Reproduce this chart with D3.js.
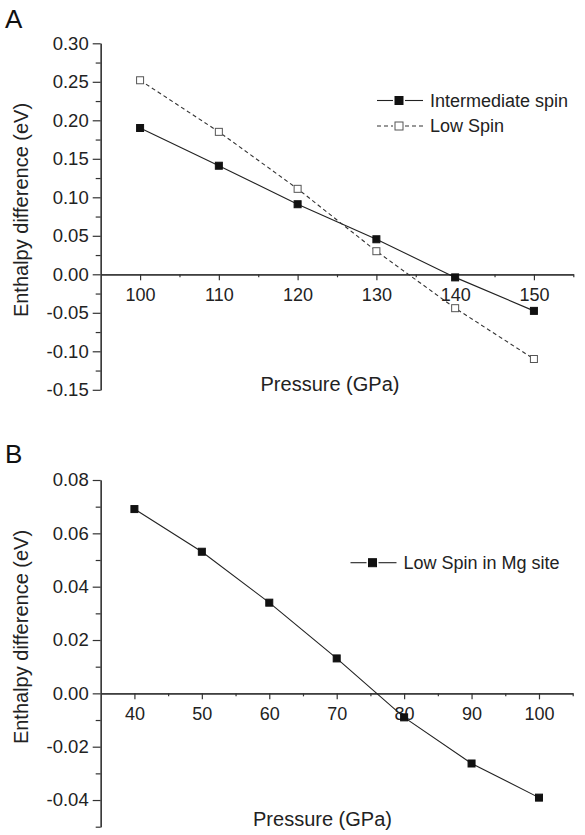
<!DOCTYPE html>
<html>
<head>
<meta charset="utf-8">
<script src="https://cdn.jsdelivr.net/npm/d3@7"></script>
<style>
  body { margin: 0; background: #fff; }
  svg { display: block; font-family: "Liberation Sans", Arial, sans-serif; }
</style>
</head>
<body>
<svg id="chart" width="585" height="835"></svg>
<script>
// panel A data: enthalpy difference vs pressure
const pressureA = [100, 110, 120, 130, 140, 150];
const intermediateSpin = [0.190, 0.141, 0.091, 0.0455, -0.004, -0.0475];
const lowSpin = [0.252, 0.185, 0.111, 0.030, -0.044, -0.110];

// panel B data
const pressureB = [40, 50, 60, 70, 80, 90, 100];
const lowSpinMg = [0.0691, 0.0531, 0.0340, 0.0131, -0.0090, -0.0263, -0.0391];

const yTicksA = [-0.15, -0.10, -0.05, 0.00, 0.05, 0.10, 0.15, 0.20, 0.25, 0.30];
const yTicksB = [-0.04, -0.02, 0.00, 0.02, 0.04, 0.06, 0.08];
const xTicksA = [100, 110, 120, 130, 140, 150];
const xTicksB = [40, 50, 60, 70, 80, 90, 100];

const svg = d3.select('#chart');
const ink = '#222';

function drawPanel(opt) {
  const g = svg.append('g');
  const x = d3.scaleLinear().domain(opt.xDomain).range(opt.xRange);
  const y = d3.scaleLinear().domain(opt.yDomain).range(opt.yRange);

  // y axis minor ticks
  const yMinor = d3.axisLeft(y).tickValues(opt.yMinor).tickSize(5).tickSizeOuter(0).tickFormat('');
  g.append('g').attr('transform', `translate(${opt.xRange[0]},0)`).call(yMinor);
  // y axis major ticks + labels
  const yMajor = d3.axisLeft(y).tickValues(opt.yTicks).tickSize(8).tickSizeOuter(0)
    .tickPadding(4).tickFormat(d => d3.format('.2f')(d).replace('−', '-'));
  const ya = g.append('g').attr('transform', `translate(${opt.xRange[0]},0)`).call(yMajor);
  ya.selectAll('text').attr('font-size', 18.5).attr('fill', ink);

  // x axis at y = 0
  const y0 = y(0);
  const xMinor = d3.axisBottom(x).tickValues(opt.xMinor).tickSize(3).tickSizeOuter(0).tickFormat('');
  g.append('g').attr('transform', `translate(0,${y0})`).call(xMinor);
  const xMajor = d3.axisBottom(x).tickValues(opt.xTicks).tickSize(6).tickSizeOuter(0).tickPadding(8);
  const xa = g.append('g').attr('transform', `translate(0,${y0})`).call(xMajor);
  xa.selectAll('text').attr('font-size', 18).attr('fill', ink);

  g.selectAll('.domain, .tick line').attr('stroke', '#333').attr('stroke-width', 1.2);

  // axis titles and panel letter
  g.append('text').attr('x', opt.xTitle[0]).attr('y', opt.xTitle[1])
    .attr('text-anchor', 'middle').attr('font-size', 20).attr('fill', ink).text('Pressure (GPa)');
  g.append('text').attr('transform', `translate(${opt.yTitle[0]},${opt.yTitle[1]}) rotate(-90)`)
    .attr('text-anchor', 'middle').attr('dominant-baseline', 'central')
    .attr('font-size', 20).attr('fill', ink).text('Enthalpy difference (eV)');
  g.append('text').attr('x', 5).attr('y', opt.letterY).attr('font-size', 26).attr('fill', '#111').text(opt.letter);

  const line = d3.line().x(d => x(d[0])).y(d => y(d[1]));

  opt.series.forEach(s => {
    const pts = s.xs.map((v, i) => [v, s.ys[i]]);
    const stroke = s.hollow ? '#333' : ink;
    const dash = s.hollow ? '4,3' : null;
    g.append('path').datum(pts).attr('d', line).attr('fill', 'none')
      .attr('stroke', stroke).attr('stroke-width', 1.1).attr('stroke-dasharray', dash);
    g.selectAll(null).data(pts).enter().append('rect')
      .attr('x', d => x(d[0]) - 3.5).attr('y', d => y(d[1]) - 3.5)
      .attr('width', 7).attr('height', 7)
      .attr('fill', s.hollow ? '#fff' : '#111')
      .attr('stroke', s.hollow ? '#555' : '#111').attr('stroke-width', 1);

    // legend entry: line - marker - line
    const lx = s.legend[0], ly = s.legend[1];
    [[lx, lx + 16], [lx + 28, lx + 46]].forEach(seg => {
      g.append('line').attr('x1', seg[0]).attr('x2', seg[1]).attr('y1', ly).attr('y2', ly)
        .attr('stroke', stroke).attr('stroke-width', 1.1).attr('stroke-dasharray', dash);
    });
    g.append('rect').attr('x', lx + 18).attr('y', ly - 4).attr('width', 8).attr('height', 8)
      .attr('fill', s.hollow ? '#fff' : '#111').attr('stroke', s.hollow ? '#555' : '#111');
    g.append('text').attr('x', lx + 53).attr('y', ly).attr('dominant-baseline', 'central')
      .attr('font-size', 18).attr('fill', ink).text(s.name);
  });
}

drawPanel({
  letter: 'A', letterY: 28,
  xDomain: [95, 155], xRange: [100.7, 573.3],
  yDomain: [-0.15, 0.30], yRange: [389.8, 43.3],
  yTicks: yTicksA, yMinor: d3.range(-0.125, 0.3, 0.05),
  xTicks: xTicksA, xMinor: [105, 115, 125, 135, 145, 155],
  xTitle: [330, 391], yTitle: [21, 210],
  series: [
    { name: 'Intermediate spin', xs: pressureA, ys: intermediateSpin, hollow: false, legend: [377, 100.5] },
    { name: 'Low Spin', xs: pressureA, ys: lowSpin, hollow: true, legend: [377, 126] }
  ]
});

drawPanel({
  letter: 'B', letterY: 463,
  xDomain: [35, 105], xRange: [100.7, 572.7],
  yDomain: [-0.05, 0.08], yRange: [826.7, 480],
  yTicks: yTicksB, yMinor: [-0.05, -0.03, -0.01, 0.01, 0.03, 0.05, 0.07],
  xTicks: xTicksB, xMinor: [45, 55, 65, 75, 85, 95, 105],
  xTitle: [322.5, 826], yTitle: [21, 637],
  series: [
    { name: 'Low Spin in Mg site', xs: pressureB, ys: lowSpinMg, hollow: false, legend: [350.5, 562.7] }
  ]
});
</script>
</body>
</html>
